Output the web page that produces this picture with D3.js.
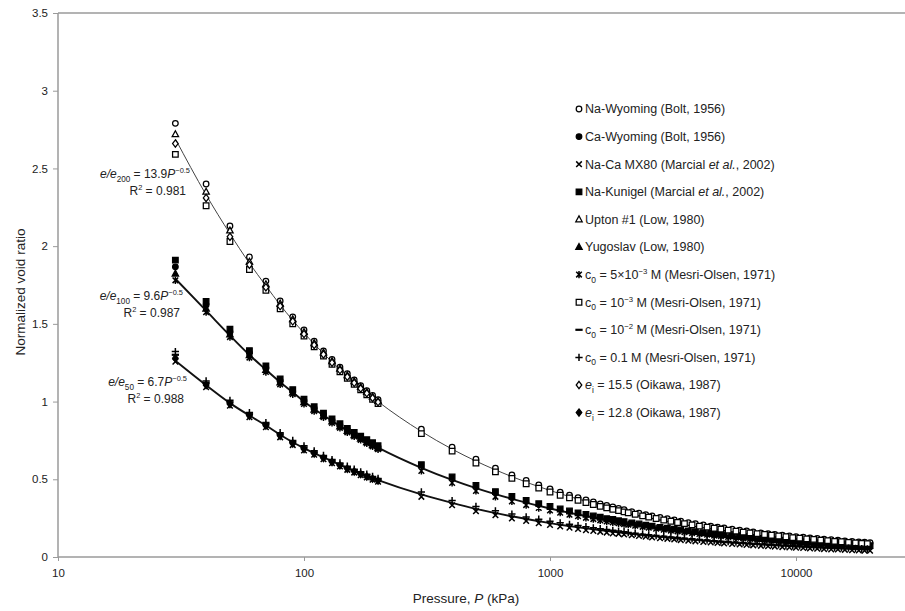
<!DOCTYPE html>
<html>
<head>
<meta charset="utf-8">
<script src="https://cdn.jsdelivr.net/npm/d3@7"></script>
<style>
  html, body { margin: 0; background: #fff; }
  svg { display: block; font-family: "Liberation Sans", Arial, sans-serif; }
</style>
</head>
<body>
<svg id="chart" width="905" height="611"></svg>
<script>
// Pressure grids (kPa)
const pressureLow = [30, 40, 50, 60, 70, 80, 90, 100, 110, 120, 130, 140, 150, 160, 170, 180, 190, 200];
const pressureMid = [300, 400, 500, 600, 700, 800, 900, 1000, 1100, 1200, 1300, 1400, 1500, 1600, 1700, 1800, 1900, 2000];
const pressureHigh = [2150, 2300, 2450, 2600, 2800, 3000, 3200, 3400, 3650, 3900, 4200, 4500, 4800, 5100, 5500, 5900, 6300, 6700, 7200, 7700,
  8200, 8800, 9400, 10000, 10700, 11400, 12200, 13000, 13900, 14800, 15800, 16900, 18000, 19000, 20000];
const pressureHighAlt = [2080, 2220, 2380, 2520, 2700, 2900, 3100, 3300, 3520, 3780, 4050, 4350, 4650, 4950, 5300, 5700, 6100, 6500, 6950, 7450,
  7950, 8500, 9100, 9700, 10350, 11050, 11800, 12600, 13450, 14350, 15300, 16350, 17450, 18500, 19500];

// Power-law trend curves for the three normalisations
const fitPressure = [30, 40, 50, 60, 70, 80, 90, 100, 120, 150, 200, 300, 400, 500, 700, 1000, 1500, 2000, 3000, 5000, 7000, 10000, 15000, 20000];
const fit200 = [2.69, 2.33, 2.08, 1.89, 1.745, 1.622, 1.523, 1.441, 1.309, 1.164, 1.000, 0.808, 0.694, 0.617, 0.517, 0.428, 0.346, 0.297, 0.240, 0.183, 0.154, 0.127, 0.103, 0.088];
const fit100 = [1.79, 1.585, 1.425, 1.30, 1.205, 1.125, 1.06, 1.0, 0.912, 0.815, 0.704, 0.574, 0.496, 0.443, 0.374, 0.312, 0.254, 0.220, 0.179, 0.138, 0.1165, 0.0973, 0.0792, 0.0685];
const fit50 = [1.262, 1.105, 0.99, 0.91, 0.846, 0.787, 0.738, 0.70, 0.641, 0.572, 0.4945, 0.4025, 0.348, 0.310, 0.262, 0.218, 0.178, 0.1535, 0.125, 0.0964, 0.0812, 0.0678, 0.0551, 0.0476];

// e/e200 group
const naWyoming = [2.79, 2.40, 2.13, 1.93, 1.775, 1.647, 1.545, 1.461, 1.388, 1.326, 1.271, 1.222, 1.179, 1.139, 1.103, 1.070, 1.040, 1.013,
  0.822, 0.707, 0.629, 0.572, 0.528, 0.493, 0.463, 0.438, 0.417, 0.398, 0.382, 0.368, 0.354, 0.342, 0.332, 0.322, 0.312, 0.304,
  0.292, 0.282, 0.273, 0.265, 0.255, 0.246, 0.238, 0.231, 0.221, 0.214, 0.206, 0.199, 0.192, 0.187, 0.179, 0.173, 0.167, 0.162, 0.155, 0.150,
  0.145, 0.140, 0.135, 0.131, 0.127, 0.123, 0.119, 0.115, 0.111, 0.108, 0.104, 0.101, 0.097, 0.095, 0.092];
const c0em3 = [2.59, 2.26, 2.03, 1.85, 1.715, 1.597, 1.500, 1.421, 1.352, 1.292, 1.239, 1.192, 1.149, 1.111, 1.075, 1.044, 1.014, 0.987,
  0.794, 0.681, 0.605, 0.548, 0.506, 0.471, 0.443, 0.418, 0.397, 0.380, 0.364, 0.350, 0.338, 0.326, 0.316, 0.306, 0.298, 0.290,
  0.285, 0.275, 0.265, 0.257, 0.248, 0.238, 0.230, 0.222, 0.215, 0.207, 0.199, 0.192, 0.185, 0.179, 0.173, 0.166, 0.160, 0.155, 0.150, 0.145,
  0.140, 0.135, 0.130, 0.125, 0.121, 0.117, 0.113, 0.109, 0.105, 0.101, 0.098, 0.094, 0.091, 0.088, 0.086];
const upton = [2.72, 2.35, 2.10, 1.90, 1.755, 1.630, 1.530, 1.448, 1.376, 1.315, 1.260, 1.212, 1.169, 1.130, 1.094, 1.061, 1.031, 1.004];
const ei155 = [2.66, 2.31, 2.06, 1.88, 1.735, 1.614, 1.516, 1.434, 1.364, 1.303, 1.250, 1.202, 1.159, 1.120, 1.084, 1.053, 1.023, 0.996];

// e/e100 group
const naKunigel = [1.91, 1.645, 1.465, 1.328, 1.23, 1.146, 1.077, 1.015, 0.967, 0.926, 0.889, 0.857, 0.827, 0.801, 0.777, 0.755, 0.735, 0.716,
  0.594, 0.515, 0.461, 0.421, 0.390, 0.364, 0.343, 0.325, 0.309, 0.296, 0.284, 0.274, 0.264, 0.256, 0.247, 0.241, 0.233, 0.228,
  0.219, 0.212, 0.205, 0.199, 0.191, 0.185, 0.179, 0.174, 0.168, 0.163, 0.156, 0.151, 0.146, 0.142, 0.137, 0.132, 0.128, 0.124, 0.119, 0.115,
  0.112, 0.108, 0.104, 0.101, 0.098, 0.095, 0.092, 0.089, 0.086, 0.084, 0.081, 0.079, 0.076, 0.074, 0.073];
const c05em3 = [1.78, 1.575, 1.415, 1.283, 1.19, 1.111, 1.047, 0.985, 0.939, 0.899, 0.863, 0.831, 0.802, 0.776, 0.753, 0.731, 0.712, 0.693,
  0.554, 0.477, 0.425, 0.387, 0.358, 0.334, 0.315, 0.299, 0.285, 0.272, 0.262, 0.252, 0.244, 0.236, 0.229, 0.223, 0.217, 0.212,
  0.208, 0.201, 0.194, 0.189, 0.182, 0.176, 0.170, 0.165, 0.159, 0.154, 0.148, 0.143, 0.138, 0.134, 0.129, 0.124, 0.120, 0.116, 0.112, 0.108,
  0.105, 0.101, 0.098, 0.095, 0.092, 0.089, 0.086, 0.083, 0.080, 0.077, 0.075, 0.072, 0.070, 0.068, 0.066];
const caWyoming = [1.867, 1.622, 1.448, 1.313, 1.217, 1.134, 1.067, 1.005, 0.958, 0.917, 0.880, 0.848, 0.819, 0.792, 0.768, 0.747, 0.727, 0.708];
const yugoslav = [1.823, 1.598, 1.432, 1.298, 1.203, 1.122, 1.057, 0.995, 0.948, 0.907, 0.872, 0.839, 0.810, 0.784, 0.761, 0.739, 0.719, 0.700];

// e/e50 group
const mx80 = [1.257, 1.093, 0.973, 0.899, 0.835, 0.770, 0.720, 0.685, 0.658, 0.629, 0.603, 0.582, 0.561, 0.543, 0.526, 0.512, 0.497, 0.485,
  0.387, 0.333, 0.295, 0.269, 0.248, 0.232, 0.217, 0.206, 0.196, 0.188, 0.180, 0.173, 0.168, 0.162, 0.157, 0.152, 0.149, 0.145,
  0.140, 0.135, 0.131, 0.126, 0.121, 0.117, 0.113, 0.109, 0.105, 0.101, 0.097, 0.094, 0.090, 0.087, 0.084, 0.081, 0.078, 0.075, 0.072, 0.069,
  0.067, 0.064, 0.062, 0.060, 0.058, 0.055, 0.053, 0.051, 0.049, 0.048, 0.046, 0.044, 0.042, 0.041, 0.040];
const c001 = [1.322, 1.133, 1.008, 0.929, 0.865, 0.800, 0.750, 0.715, 0.683, 0.653, 0.627, 0.605, 0.584, 0.565, 0.548, 0.533, 0.518, 0.505,
  0.419, 0.363, 0.325, 0.297, 0.276, 0.258, 0.243, 0.230, 0.220, 0.210, 0.202, 0.195, 0.188, 0.182, 0.177, 0.172, 0.167, 0.163,
  0.157, 0.152, 0.147, 0.143, 0.138, 0.133, 0.129, 0.125, 0.121, 0.117, 0.113, 0.109, 0.105, 0.102, 0.099, 0.095, 0.092, 0.089, 0.086, 0.083,
  0.081, 0.078, 0.075, 0.073, 0.071, 0.069, 0.067, 0.065, 0.063, 0.061, 0.059, 0.057, 0.055, 0.054, 0.052];
const c0em2 = [1.301, 1.120, 0.996, 0.919, 0.855, 0.790, 0.740, 0.705, 0.674, 0.645, 0.619, 0.597, 0.576, 0.558, 0.541, 0.526, 0.511, 0.498];
const ei128 = [1.279, 1.106, 0.984, 0.909, 0.845, 0.780, 0.730, 0.695, 0.666, 0.637, 0.611, 0.589, 0.568, 0.550, 0.533, 0.518, 0.504, 0.491];

// Axis ticks
const xTicks = [10, 100, 1000, 10000];
const yTicks = [0, 0.5, 1, 1.5, 2, 2.5, 3, 3.5];

// Which pressure grid each data set was measured on
const gridMain = pressureLow.concat(pressureMid, pressureHigh);
const gridAlt = pressureLow.concat(pressureMid, pressureHighAlt);

// Legend entries: rich-text segments [text, style]
const legendEntries = [
  { values: naWyoming, grid: gridMain, marker: "circleOpen", label: [["Na-Wyoming (Bolt, 1956)"]] },
  { values: caWyoming, grid: pressureLow, marker: "circleFilled", label: [["Ca-Wyoming (Bolt, 1956)"]] },
  { values: mx80, grid: gridMain, marker: "times", label: [["Na-Ca MX80 (Marcial "], ["et al.", "i"], [", 2002)"]] },
  { values: naKunigel, grid: gridMain, marker: "squareFilled", label: [["Na-Kunigel (Marcial "], ["et al.", "i"], [", 2002)"]] },
  { values: upton, grid: pressureLow, marker: "triangleOpen", label: [["Upton #1 (Low, 1980)"]] },
  { values: yugoslav, grid: pressureLow, marker: "triangleFilled", label: [["Yugoslav (Low, 1980)"]] },
  { values: c05em3, grid: gridAlt, marker: "asterisk", label: [["c"], ["0", "sub"], [" =  5×10"], ["−3", "sup"], [" M (Mesri-Olsen, 1971)"]] },
  { values: c0em3, grid: gridAlt, marker: "squareOpen", label: [["c"], ["0", "sub"], [" = 10"], ["−3", "sup"], [" M (Mesri-Olsen, 1971)"]] },
  { values: c0em2, grid: pressureLow, marker: "dash", label: [["c"], ["0", "sub"], [" = 10"], ["−2", "sup"], [" M (Mesri-Olsen, 1971)"]] },
  { values: c001, grid: gridAlt, marker: "plus", label: [["c"], ["0", "sub"], [" = 0.1 M (Mesri-Olsen, 1971)"]] },
  { values: ei155, grid: pressureLow, marker: "diamondOpen", label: [["e", "i"], ["i", "sub"], [" = 15.5 (Oikawa, 1987)"]] },
  { values: ei128, grid: pressureLow, marker: "diamondFilled", label: [["e", "i"], ["i", "sub"], [" = 12.8 (Oikawa, 1987)"]] }
];

const trendLabels = [
  { fit: fit200, width: 1, color: "#444", eq: [["e/e", "i"], ["200", "sub"], [" = 13.9"], ["P", "i"], ["−0.5", "sup"]], r2: "0.981", eqPos: [190, 178], r2Pos: [186, 195] },
  { fit: fit100, width: 1.9, color: "#111", eq: [["e/e", "i"], ["100", "sub"], [" = 9.6"], ["P", "i"], ["−0.5", "sup"]], r2: "0.987", eqPos: [183, 300], r2Pos: [180, 317] },
  { fit: fit50, width: 1.9, color: "#111", eq: [["e/e", "i"], ["50", "sub"], [" = 6.7"], ["P", "i"], ["−0.5", "sup"]], r2: "0.988", eqPos: [187, 386], r2Pos: [184, 403] }
];

const svg = d3.select("#chart");
const x = d3.scaleLog().domain([10, 100000]).range([58, 1042]);
const y = d3.scaleLinear().domain([0, 3.5]).range([557, 13]);
const textColor = "#222";
const axisColor = "#9a9a9a";
const markerR = 2.8;

// Marker shapes centred at the origin
function markerPath(kind, r) {
  switch (kind) {
    case "circleOpen":
    case "circleFilled":
      return `M${r},0A${r},${r} 0 1,1 ${-r},0A${r},${r} 0 1,1 ${r},0Z`;
    case "squareOpen":
    case "squareFilled":
      return `M${-r},${-r}H${r}V${r}H${-r}Z`;
    case "triangleOpen":
    case "triangleFilled":
      return `M0,${-r * 1.25}L${r * 1.15},${r * 0.85}L${-r * 1.15},${r * 0.85}Z`;
    case "diamondOpen":
    case "diamondFilled":
      return `M0,${-r * 1.3}L${r},0L0,${r * 1.3}L${-r},0Z`;
    case "times":
      return `M${-r},${-r}L${r},${r}M${-r},${r}L${r},${-r}`;
    case "asterisk":
      return `M${-r},${-r}L${r},${r}M${-r},${r}L${r},${-r}M0,${-r * 1.3}V${r * 1.3}`;
    case "dash":
      return `M${-r * 1.3},0H${r * 1.3}`;
    case "plus":
      return `M${-r * 1.3},0H${r * 1.3}M0,${-r * 1.3}V${r * 1.3}`;
  }
}
function markerStyle(sel, kind) {
  const filled = /Filled$/.test(kind);
  const open = /Open$/.test(kind);
  sel.attr("fill", filled ? "#000" : open ? "#fff" : "none")
     .attr("stroke", "#000")
     .attr("stroke-width", kind === "dash" ? 2.2 : (open || filled) ? 1.25 : 1.5);
}

// Rich text with italic, subscript and superscript runs
function richText(textSel, segments, size) {
  let shift = 0;
  segments.forEach(([str, style]) => {
    let target = 0, fs = size, italic = false;
    if (style === "sub") { target = size * 0.3; fs = size * 0.68; }
    else if (style === "sup") { target = -size * 0.4; fs = size * 0.62; }
    else if (style === "i") { italic = true; }
    const t = textSel.append("tspan").text(str).attr("font-size", fs);
    if (target !== shift) t.attr("dy", target - shift);
    if (italic) t.attr("font-style", "italic");
    shift = target;
  });
}

// Plot frame and axes
svg.append("line").attr("x1", 58).attr("x2", 1042).attr("y1", 13).attr("y2", 13)
  .attr("stroke", axisColor).attr("stroke-width", 1.5);
svg.append("line").attr("x1", 58).attr("x2", 58).attr("y1", 13).attr("y2", 557)
  .attr("stroke", axisColor).attr("stroke-width", 1.5);
svg.append("line").attr("x1", 58).attr("x2", 1042).attr("y1", 557).attr("y2", 557)
  .attr("stroke", axisColor).attr("stroke-width", 1.5);

const yAxis = svg.append("g").attr("transform", "translate(58,0)")
  .call(d3.axisLeft(y).tickValues(yTicks).tickSize(5).tickPadding(5).tickFormat(d3.format("")));
yAxis.select(".domain").remove();
yAxis.selectAll(".tick line").attr("stroke", axisColor);
yAxis.selectAll(".tick text").attr("fill", textColor).attr("font-size", 11.5)
  .attr("font-family", "Liberation Sans, Arial, sans-serif");

const xAxis = svg.append("g").attr("transform", "translate(0,557)")
  .call(d3.axisBottom(x).tickValues(xTicks).tickSize(4).tickPadding(8).tickFormat(d3.format("d")));
xAxis.select(".domain").remove();
xAxis.selectAll(".tick line").attr("stroke", axisColor);
xAxis.selectAll(".tick text").attr("fill", textColor).attr("font-size", 11.5)
  .attr("font-family", "Liberation Sans, Arial, sans-serif");

// Axis titles
svg.append("text").attr("transform", "translate(25,292) rotate(-90)")
  .attr("text-anchor", "middle").attr("fill", textColor).attr("font-size", 13.5)
  .text("Normalized void ratio");
const xt = svg.append("text").attr("x", 466).attr("y", 603).attr("text-anchor", "middle")
  .attr("fill", textColor).attr("font-size", 13.5);
richText(xt, [["Pressure, "], ["P", "i"], [" (kPa)"]], 13.5);

// Trend curves
const line = d3.line().x(d => x(d[0])).y(d => y(d[1])).curve(d3.curveMonotoneX);
trendLabels.forEach(t => {
  svg.append("path").datum(fitPressure.map((p, i) => [p, t.fit[i]]))
    .attr("d", line).attr("fill", "none").attr("stroke", t.color).attr("stroke-width", t.width);
});

// Data markers
legendEntries.forEach(s => {
  const pts = s.values.map((v, i) => [s.grid[i], v]);
  svg.append("g").selectAll("path").data(pts).join("path")
    .attr("transform", d => `translate(${x(d[0])},${y(d[1])})`)
    .attr("d", markerPath(s.marker, markerR))
    .call(markerStyle, s.marker);
});

// Trend equations
trendLabels.forEach(t => {
  const eq = svg.append("text").attr("x", t.eqPos[0]).attr("y", t.eqPos[1])
    .attr("text-anchor", "end").attr("fill", textColor).attr("font-size", 12);
  richText(eq, t.eq, 12);
  const r2 = svg.append("text").attr("x", t.r2Pos[0]).attr("y", t.r2Pos[1])
    .attr("text-anchor", "end").attr("fill", textColor).attr("font-size", 12);
  richText(r2, [["R"], ["2", "sup"], [" = " + t.r2]], 12);
});

// Legend
const legend = svg.append("g");
legendEntries.forEach((s, i) => {
  const cy = 109 + i * 27.6;
  legend.append("path").attr("transform", `translate(579,${cy})`)
    .attr("d", markerPath(s.marker, markerR)).call(markerStyle, s.marker);
  const t = legend.append("text").attr("x", 585).attr("y", cy + 4.3)
    .attr("fill", textColor).attr("font-size", 12.5);
  richText(t, s.label, 12.5);
});
</script>
</body>
</html>
